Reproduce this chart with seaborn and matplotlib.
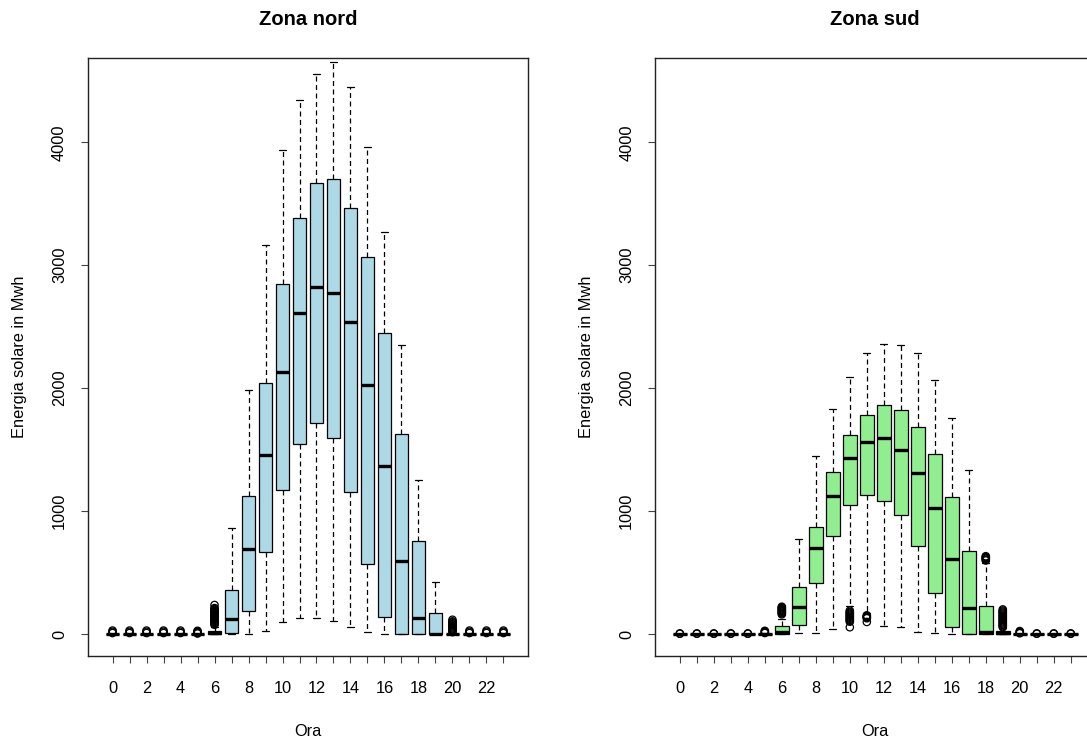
import matplotlib as mpl
import matplotlib.pyplot as plt
import seaborn as sns
import pandas as pd

# Use a non-interactive backend
mpl.use('Agg')

ore = list(range(24))

# Zona nord: whisker low, Q1, median, Q3, whisker high per hour (0..23)
nord_low = [0, 0, 0, 0, 0, 0, 0, 0, 0, 22, 100, 127, 127, 108, 60, 14, 0, 0, 0, 0, 0, 0, 0, 0]
nord_q1 = [0, 0, 0, 0, 0, 0, 0, 5, 187, 664, 1173, 1547, 1713, 1591, 1157, 566, 136, 0, 0, 0, 0, 0, 0, 0]
nord_med = [0, 0, 0, 0, 0, 0, 5, 119, 691, 1453, 2130, 2615, 2824, 2770, 2537, 2024, 1369, 596, 127, 0, 0, 0, 0, 0]
nord_q3 = [0, 0, 0, 0, 0, 0, 27, 360, 1125, 2044, 2848, 3388, 3672, 3699, 3466, 3068, 2450, 1626, 753, 168, 0, 0, 0, 0]
nord_high = [0, 0, 0, 0, 0, 0, 60, 864, 1989, 3163, 3935, 4341, 4558, 4653, 4453, 3959, 3271, 2352, 1252, 420, 0, 0, 0, 0]
nord_outliers = {
    0: [8, 18, 28], 1: [8, 18, 28], 2: [8, 18, 28], 3: [8, 18, 28], 4: [8, 18, 28],
    5: [4, 9, 14, 20, 26],
    6: [75, 83, 91, 99, 107, 115, 123, 131, 139, 147, 155, 163, 171, 179, 187, 195, 203, 211, 236],
    20: [15, 23, 31, 39, 47, 55, 63, 71, 79, 87, 95, 103, 116],
    21: [8, 18, 28], 22: [8, 18, 28], 23: [8, 18, 28],
}

# Zona sud
sud_low = [0, 0, 0, 0, 0, 0, 0, 5, 5, 41, 225, 170, 68, 60, 16, 5, 0, 0, 0, 0, 0, 0, 0, 0]
sud_q1 = [0, 0, 0, 0, 0, 0, 0, 73, 412, 794, 1046, 1133, 1079, 967, 718, 336, 60, 0, 0, 0, 0, 0, 0, 0]
sud_med = [0, 0, 0, 0, 0, 0, 14, 222, 699, 1125, 1428, 1558, 1596, 1499, 1306, 1027, 612, 214, 14, 5, 0, 0, 0, 0]
sud_q3 = [0, 0, 0, 0, 0, 3, 68, 380, 872, 1314, 1618, 1783, 1859, 1819, 1686, 1461, 1114, 672, 230, 24, 0, 0, 0, 0]
sud_high = [0, 0, 0, 0, 0, 8, 120, 775, 1447, 1827, 2087, 2282, 2358, 2347, 2287, 2065, 1756, 1333, 575, 50, 0, 0, 0, 0]
sud_outliers = {
    0: [2, 5], 1: [2, 5], 2: [2, 5], 3: [2, 5], 4: [2, 5],
    5: [8, 14, 20, 26],
    6: [160, 167, 174, 181, 188, 195, 202, 209, 216, 222],
    10: [55, 100, 108, 116, 124, 132, 140, 148, 156, 164, 172, 180, 190],
    11: [98, 128, 134, 140, 146, 152],
    18: [598, 605, 612, 619, 626, 633],
    19: [55, 63, 71, 79, 87, 95, 103, 111, 119, 127, 135, 143, 151, 159, 167, 175, 183, 191, 200],
    20: [6, 12, 18, 24],
    21: [2, 5], 22: [2, 5], 23: [2, 5],
}


def long_df(low, q1, med, q3, high):
    rows = []
    for h in ore:
        for v in (low[h], q1[h], med[h], q3[h], high[h]):
            rows.append((h, v))
    return pd.DataFrame(rows, columns=['Ora', 'Energia'])


def outlier_df(outliers):
    rows = [(h, v) for h, vals in outliers.items() for v in vals]
    return pd.DataFrame(rows, columns=['Ora', 'Energia'])


def draw_panel(ax, df, out, color, title):
    sns.boxplot(data=df, x='Ora', y='Energia', order=ore, color=color, saturation=1,
                width=0.8, whis=(0, 100), showfliers=False, linecolor='black',
                linewidth=0.9, ax=ax,
                whiskerprops=dict(linestyle=(0, (4, 2.8))),
                medianprops=dict(linewidth=2.4, color='black'))
    sns.scatterplot(data=out, x='Ora', y='Energia', marker='o', s=28,
                    facecolor='none', edgecolor='black', linewidth=0.9,
                    legend=False, ax=ax, zorder=3)
    ax.set_xlim(-1.46, 24.46)
    ax.set_ylim(-179, 4685)
    ax.set_xticks(ore)
    ax.set_xticklabels([str(h) if h % 2 == 0 else '' for h in ore])
    ax.set_yticks([0, 1000, 2000, 3000, 4000])
    ax.set_yticklabels(['0', '1000', '2000', '3000', '4000'], rotation=90, va='center')
    ax.tick_params(axis='x', length=5, width=0.8, color='#444444', pad=13, labelsize=11.8)
    ax.tick_params(axis='y', length=5, width=0.8, color='#444444', pad=10, labelsize=11.8)
    ax.set_xlabel('Ora', fontsize=11.8, labelpad=20)
    ax.set_ylabel('Energia solare in Mwh', fontsize=11.8, labelpad=18)
    ax.set_title(title, fontsize=14.5, fontweight='bold', pad=24)
    for s in ax.spines.values():
        s.set_color('#222222')
        s.set_linewidth(1.0)


sns.set_theme(style="ticks")
plt.rcParams['font.family'] = ['Liberation Sans', 'DejaVu Sans']
plt.rcParams['text.color'] = 'black'
plt.rcParams['axes.labelcolor'] = 'black'
plt.rcParams['xtick.labelcolor'] = 'black'
plt.rcParams['ytick.labelcolor'] = 'black'

fig = plt.figure(figsize=(10.87, 7.4), dpi=100)
ax1 = fig.add_axes([0.0807, 0.1135, 0.4053, 0.808])
ax2 = fig.add_axes([0.6026, 0.1135, 0.4053, 0.808])

draw_panel(ax1, long_df(nord_low, nord_q1, nord_med, nord_q3, nord_high),
           outlier_df(nord_outliers), '#ADD8E6', 'Zona nord')
draw_panel(ax2, long_df(sud_low, sud_q1, sud_med, sud_q3, sud_high),
           outlier_df(sud_outliers), '#90EE90', 'Zona sud')

fig.savefig('out.png', dpi=100)
plt.close(fig)
